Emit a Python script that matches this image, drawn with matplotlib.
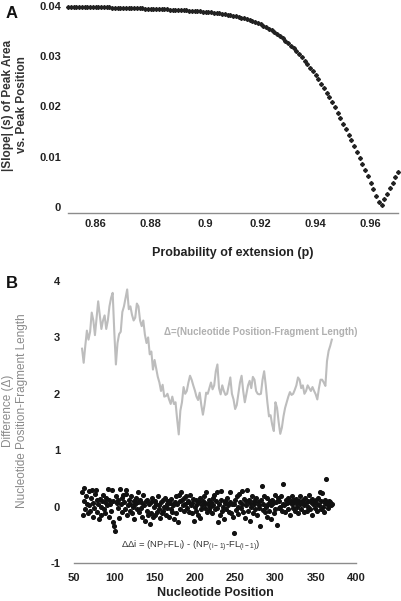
import matplotlib
matplotlib.use("Agg")
import numpy as np
import matplotlib.pyplot as plt

plt.rcParams['font.family'] = ['Liberation Sans', 'DejaVu Sans']

# Panel A: |slope| vs probability of extension (p = 0.850 ... 0.970, step 0.001)
p_start, p_step = 0.850, 0.001
slope_vals = [
    .0399, .0399, .0399, .0399, .0399, .0399, .0399, .0398, .0398, .0398,
    .0398, .0398, .0398, .0398, .0398, .0398, .0397, .0397, .0397, .0397,
    .0397, .0397, .0397, .0396, .0396, .0396, .0396, .0396, .0395, .0395,
    .0395, .0395, .0395, .0394, .0394, .0394, .0394, .0393, .0393, .0393,
    .0393, .0392, .0392, .0392, .0391, .0391, .0391, .0390, .0390, .0389,
    .0389, .0388, .0388, .0387, .0386, .0386, .0385, .0384, .0383, .0382,
    .0381, .0380, .0379, .0377, .0376, .0374, .0373, .0371, .0369, .0367,
    .0364, .0361, .0358, .0355, .0352, .0348, .0345, .0341, .0336, .0331,
    .0326, .0321, .0316, .0310, .0304, .0298, .0291, .0284, .0277, .0270,
    .0262, .0254, .0245, .0236, .0227, .0218, .0209, .0199, .0188, .0177,
    .0166, .0155, .0144, .0133, .0121, .0109, .0097, .0085, .0073, .0061,
    .0048, .0035, .0022, .0009, .0004, .0015, .0026, .0037, .0048, .0059,
    .0070,
]
p_vals = p_start + p_step * np.arange(len(slope_vals))
a_xticks = [0.86, 0.88, 0.90, 0.92, 0.94, 0.96]
a_xlabels = ['0.86', '0.88', '0.9', '0.92', '0.94', '0.96']
a_yticks = [0, 0.01, 0.02, 0.03, 0.04]
a_ylabels = ['0', '0.01', '0.02', '0.03', '0.04']

# Panel B: delta line (positions 60..370 step 2)
delta_pos = np.arange(60, 371, 2)
delta_vals = [
    2.80, 2.55, 2.85, 3.12, 2.96, 3.10, 3.44, 3.30, 3.04, 3.35,
    3.64, 3.40, 3.15, 3.30, 3.39, 3.15, 3.30, 3.55, 3.70, 3.79,
    3.10, 2.52, 2.90, 3.06, 3.10, 3.45, 3.55, 3.70, 3.85, 3.50,
    3.55, 3.40, 3.30, 3.35, 3.60, 3.55, 3.30, 3.20, 3.30, 3.05,
    2.90, 3.00, 2.70, 2.75, 2.43, 2.60, 2.45, 2.30, 2.20, 2.05,
    2.16, 1.95, 1.96, 2.00, 1.90, 1.82, 1.95, 1.82, 1.85, 1.55,
    1.28, 1.70, 1.85, 2.12, 2.00, 2.05, 2.20, 2.32, 2.25, 2.15,
    2.06, 1.95, 1.89, 2.02, 1.80, 1.63, 1.80, 2.02, 2.00, 2.10,
    2.20, 2.08, 2.15, 2.40, 2.52, 2.10, 1.99, 2.15, 2.05, 1.98,
    2.00, 2.15, 2.29, 2.00, 1.90, 1.73, 1.80, 2.00, 2.20, 2.32,
    2.05, 1.85, 2.00, 2.15, 2.23, 2.10, 2.30, 2.25, 2.05, 2.00,
    1.99, 2.00, 2.25, 2.40, 2.15, 1.85, 1.60, 1.62, 1.45, 1.34,
    1.85, 1.75, 1.50, 1.29, 1.40, 1.60, 1.75, 1.85, 1.95, 2.03,
    1.98, 2.00, 2.07, 2.15, 2.29, 2.25, 2.10, 2.15, 2.00, 2.05,
    2.15, 2.10, 2.05, 2.12, 2.05, 1.99, 1.90, 2.10, 2.25, 2.25,
    2.20, 2.14, 2.58, 2.76, 2.85, 2.96,
]

# Panel B: delta-delta scatter (positions 60..370)
dd_pos = np.arange(60, 371)
dd_vals = [
    0.25, -0.15, 0.33, 0.10, -0.05, 0.18, 0.05, -0.12, 0.28, 0.02,
    -0.08, 0.15, 0.30, -0.18, 0.07, -0.02, 0.22, 0.30, -0.10, 0.12,
    0.04, -0.22, 0.14, 0.00, -0.15, 0.10, 0.20, -0.05, 0.08, -0.12,
    0.15, 0.02, 0.32, -0.18, 0.12, 0.05, -0.08, 0.30, 0.10, -0.28,
    -0.35, -0.44, 0.18, 0.06, -0.02, 0.12, -0.20, 0.32, 0.05, 0.15,
    -0.10, 0.20, 0.08, -0.05, 0.22, 0.30, -0.15, 0.02, 0.12, -0.08,
    0.05, 0.18, -0.12, 0.00, 0.10, -0.22, 0.04, 0.15, -0.05, 0.25,
    0.08, -0.10, 0.12, -0.02, 0.06, -0.18, 0.20, 0.02, -0.25, 0.10,
    -0.08, 0.12, -0.15, 0.05, -0.30, 0.08, -0.12, 0.15, -0.18, 0.00,
    0.10, -0.15, 0.05, -0.10, 0.18, -0.05, 0.02, -0.20, 0.08, -0.12,
    0.12, -0.08, 0.00, 0.15, -0.15, 0.05, -0.02, 0.10, -0.18, 0.06,
    -0.05, 0.14, -0.10, 0.02, -0.22, 0.08, 0.18, -0.12, 0.04, -0.28,
    0.20, 0.10, -0.05, 0.25, 0.12, 0.03, -0.08, 0.15, 0.05, 0.18,
    -0.02, 0.10, 0.08, -0.10, 0.20, 0.02, -0.12, 0.06, 0.14, -0.25,
    0.00, -0.08, 0.12, 0.05, -0.15, 0.08, -0.20, 0.15, -0.05, 0.02,
    0.10, 0.18, -0.02, 0.06, 0.25, -0.10, 0.04, 0.12, -0.06, 0.00,
    0.08, -0.12, 0.15, 0.02, 0.20, -0.05, 0.10, 0.26, -0.02, -0.28,
    0.05, -0.15, 0.12, 0.28, -0.08, 0.00, -0.22, 0.10, 0.06, -0.05,
    0.15, 0.02, -0.10, 0.08, 0.25, -0.12, 0.05, -0.18, -0.46, 0.04,
    0.12, -0.06, 0.18, 0.00, -0.14, 0.22, 0.08, -0.02, 0.28, 0.05,
    -0.10, 0.14, -0.20, 0.10, 0.02, 0.30, -0.08, 0.12, -0.25, 0.06,
    0.00, 0.18, -0.12, 0.05, 0.10, -0.05, 0.15, -0.15, 0.08, 0.02,
    -0.02, -0.35, 0.12, 0.36, -0.06, 0.04, 0.18, -0.10, 0.00, 0.15,
    -0.18, 0.05, -0.08, 0.10, 0.02, -0.22, 0.12, 0.06, -0.12, 0.20,
    -0.05, 0.08, -0.33, 0.15, -0.02, 0.10, 0.00, 0.18, -0.08, 0.05,
    0.40, 0.02, -0.10, 0.12, 0.06, -0.05, 0.15, 0.08, -0.15, 0.10,
    0.04, 0.18, -0.02, 0.12, -0.08, 0.06, 0.14, 0.00, -0.12, 0.10,
    0.05, 0.18, -0.05, 0.08, 0.12, -0.10, 0.02, 0.15, 0.06, -0.08,
    0.10, 0.00, 0.20, -0.05, 0.08, 0.14, -0.15, 0.04, 0.10, -0.02,
    0.12, 0.05, -0.08, 0.16, 0.02, 0.25, -0.05, 0.10, 0.24, 0.00,
    -0.10, 0.06, 0.12, 0.49, 0.04, -0.02, 0.10, 0.05, 0.08, 0.02,
    0.05,
]
b_xticks = [50, 100, 150, 200, 250, 300, 350, 400]
b_yticks = [-1, 0, 1, 2, 3, 4]

W, H = 401, 601
fig = plt.figure(figsize=(W / 100, H / 100), dpi=100)


def px_axes(x0, y0, x1, y1):
    return fig.add_axes([x0 / W, 1 - y1 / H, (x1 - x0) / W, (y1 - y0) / H])


def style(ax, pad_x, pad_y):
    for s in ['top', 'right', 'left']:
        ax.spines[s].set_visible(False)
    ax.spines['bottom'].set_color('#8c8c8c')
    ax.spines['bottom'].set_linewidth(1.0)
    ax.tick_params(length=0, labelsize=8, colors='#222222')
    ax.tick_params(axis='x', pad=pad_x)
    ax.tick_params(axis='y', pad=pad_y)
    for lab in ax.get_xticklabels() + ax.get_yticklabels():
        lab.set_fontweight('bold')
    ax.patch.set_alpha(0)


# ---- Panel A
axA = px_axes(68, 6, 398, 213)
axA.plot(p_vals, slope_vals, linestyle='none', marker='D', markersize=2,
         color='#222222', clip_on=False)
axA.set_xlim(0.85, 0.97)
axA.set_ylim(-0.0012, 0.04)
axA.set_xticks(a_xticks, a_xlabels)
axA.set_yticks(a_yticks, a_ylabels)
style(axA, 4, 5)
axA.set_xlabel('Probability of extension (p)', fontsize=9, fontweight='bold',
               color='#222222', labelpad=13)

# ---- Panel B
axB = px_axes(74, 281, 356, 563)
axB.plot(delta_pos, delta_vals, color='#bdbdbd', linewidth=1.5)
axB.scatter(dd_pos, dd_vals, s=7, color='#111111', zorder=3)
axB.set_xlim(50, 400)
axB.set_ylim(-1, 4)
axB.set_xticks(b_xticks, [str(v) for v in b_xticks])
axB.set_yticks(b_yticks, [str(v) for v in b_yticks])
style(axB, 7, 10)

axB.text(162, 3.1, 'Δ=(Nucleotide Position-Fragment Length)', fontsize=7,
         fontweight='bold', color='#b0b0b0', va='center', ha='left')
axB.text(195, -0.7,
         r'ΔΔi = (NP$_\mathregular{i}$-FL$_\mathregular{i}$) - '
         r'(NP$_\mathregular{(i-1)}$-FL$_\mathregular{(i-1)}$)',
         fontsize=6.8, color='#333333', ha='center', va='center')

# ---- labels outside the axes
fig.text(12 / W, 1 - 14 / H, 'A', fontsize=12, fontweight='bold',
         ha='center', va='center', color='#111111')
fig.text(12 / W, 1 - 284 / H, 'B', fontsize=12, fontweight='bold',
         ha='center', va='center', color='#111111')
fig.text(15 / W, 1 - 105 / H, '|Slope| (s) of Peak Area\nvs. Peak Position',
         rotation=90, fontsize=8.5, fontweight='bold', color='#333333',
         ha='center', va='center', multialignment='center', linespacing=1.2)
fig.text(15 / W, 1 - 411 / H,
         'Difference (Δ)\nNucleotide Position-Fragment Length',
         rotation=90, fontsize=8.5, color='#8a8a8a',
         ha='center', va='center', multialignment='center', linespacing=1.2)
fig.text(215 / W, 1 - 593 / H, 'Nucleotide Position', fontsize=9,
         fontweight='bold', color='#222222', ha='center', va='center')

fig.savefig('out.png', dpi=100)
